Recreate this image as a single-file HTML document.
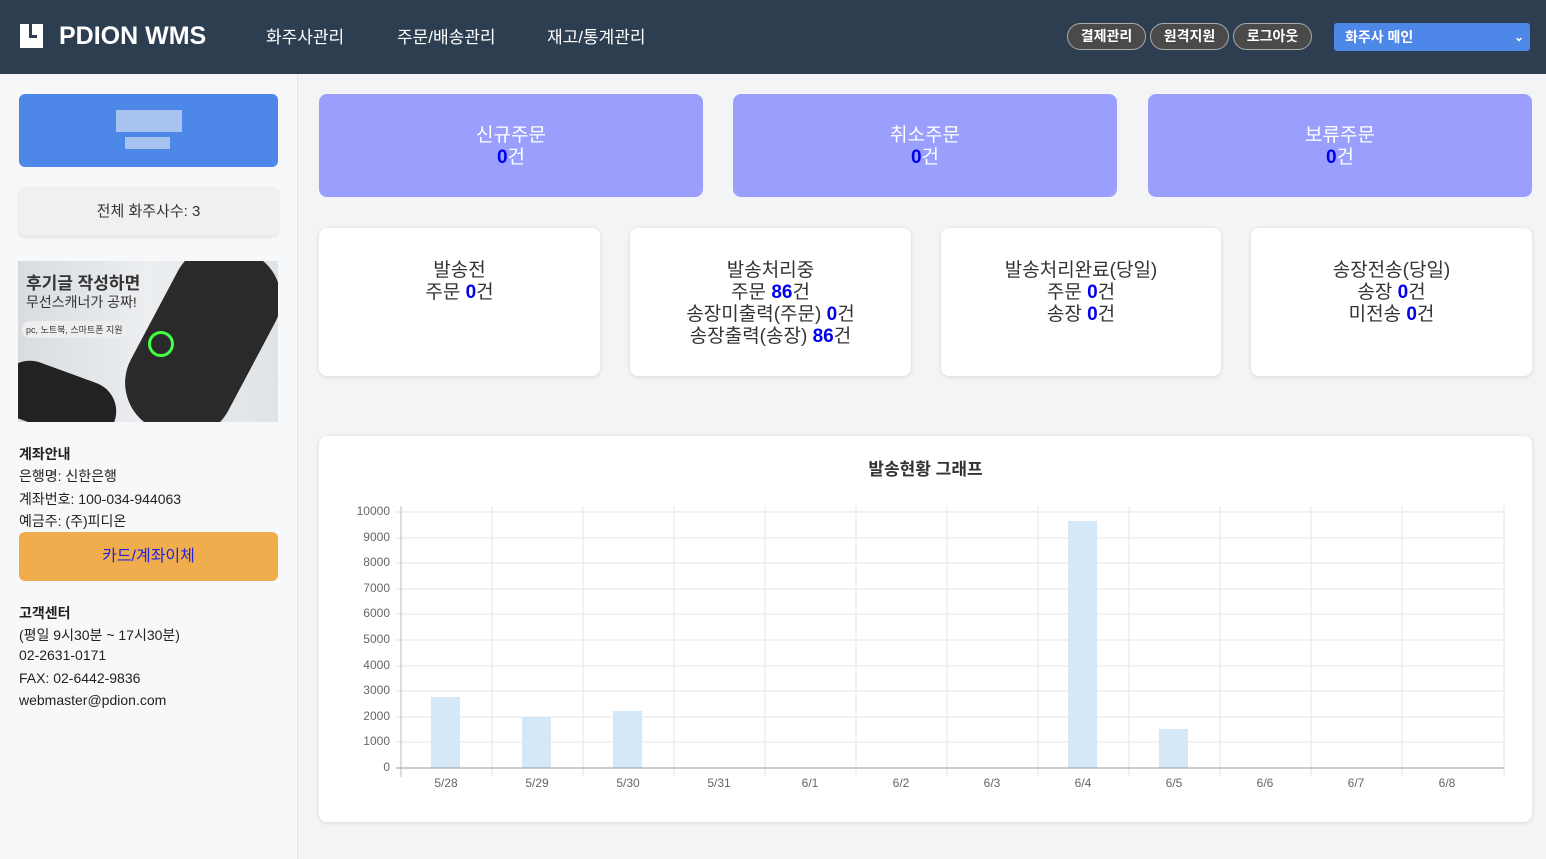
<!DOCTYPE html>
<html><head><meta charset="utf-8"><style>
*{box-sizing:border-box;margin:0;padding:0}
body{width:1546px;height:859px;overflow:hidden;background:#f3f4f6;font-family:"Liberation Sans","Noto Sans CJK KR",sans-serif;color:#333;position:relative}
.a{position:absolute}
.hdr{left:0;top:0;width:1546px;height:74px;background:#2d3e50}
.nav{color:#fff;font-size:17px;top:23px}
.pill{top:23px;height:27px;border:1px solid #aaa;border-radius:14px;background:#4a4a4a;color:#fff;font-weight:bold;font-size:14px;text-align:center;line-height:25px}
.side{left:0;top:74px;width:298px;height:785px;background:#f7f8fa;border-right:1px solid #e2e2e2}
.card{background:#fff;border-radius:8px;box-shadow:0 1px 4px rgba(0,0,0,.12)}
.top{top:94px;width:384px;height:103px;background:#9a9efc;border-radius:8px;color:#fff;font-size:19px;text-align:center;padding-top:31px;line-height:22px}
.top b{color:#0000ee}
.mid{top:228px;height:148px;font-size:19px;text-align:center;padding-top:32px;line-height:22px;color:#333}
.mid b{color:#0000ee}
.st{font-size:14px;color:#222;left:19px}
</style></head><body>
<div class="a hdr"></div>
<div class="a" style="left:20px;top:24px;width:23px;height:24px;background:#fff"></div>
<div class="a" style="left:29px;top:24px;width:3px;height:14px;background:#2d3e50"></div>
<div class="a" style="left:29px;top:35px;width:8px;height:3px;background:#2d3e50"></div>
<div class="a" style="left:59px;top:22px;color:#fff;font-weight:bold;font-size:25px">PDION WMS</div>
<div class="a nav" style="left:266px">화주사관리</div>
<div class="a nav" style="left:397px">주문/배송관리</div>
<div class="a nav" style="left:547px">재고/통계관리</div>
<div class="a pill" style="left:1067px;width:79px">결제관리</div>
<div class="a pill" style="left:1150px;width:79px">원격지원</div>
<div class="a pill" style="left:1233px;width:79px">로그아웃</div>
<div class="a" style="left:1334px;top:23px;width:196px;height:28px;background:#4d88e8;border-radius:3px;color:#fff;font-weight:bold;font-size:14px;line-height:28px;padding-left:11px">화주사 메인<span style="position:absolute;right:6px;font-size:12px">⌄</span></div>

<div class="a side"></div>
<div class="a" style="left:19px;top:94px;width:259px;height:73px;background:#4d88e8;border-radius:6px"></div>
<div class="a" style="left:116px;top:110px;width:66px;height:22px;background:#a8c3f0"></div>
<div class="a" style="left:125px;top:137px;width:45px;height:12px;background:#a8c3f0"></div>
<div class="a" style="left:19px;top:187px;width:259px;height:49px;background:#f0f0f0;border-radius:6px;box-shadow:0 1px 3px rgba(0,0,0,.12);text-align:center;line-height:49px;font-size:15px">전체 화주사수: 3</div>
<div class="a" style="left:18px;top:261px;width:260px;height:161px;background:linear-gradient(90deg,#d8dce0,#eceef0 50%,#dfe3e6);overflow:hidden">
<div class="a" style="left:130px;top:-20px;width:110px;height:200px;background:#2a2a2a;border-radius:50px;transform:rotate(28deg)"></div>
<div class="a" style="left:-20px;top:110px;width:120px;height:60px;background:#222;border-radius:40px;transform:rotate(20deg)"></div>
<div class="a" style="left:130px;top:70px;width:26px;height:26px;border:3px solid #4f4;border-radius:50%"></div>
<div class="a" style="left:8px;top:8px;font-weight:bold;font-size:17px;color:#333">후기글 작성하면</div>
<div class="a" style="left:8px;top:31px;font-size:14px;color:#333">무선스캐너가 공짜!</div>
<div class="a" style="left:4px;top:60px;font-size:9px;color:#333;background:#eee;border-radius:8px;padding:2px 4px">pc, 노트북, 스마트폰 지원</div>
</div>
<div class="a st" style="top:444px;font-weight:bold">계좌안내</div>
<div class="a st" style="top:466px">은행명: 신한은행</div>
<div class="a st" style="top:489px">계좌번호: 100-034-944063</div>
<div class="a st" style="top:511px">예금주: (주)피디온</div>
<div class="a" style="left:19px;top:532px;width:259px;height:49px;background:#f0ad4e;border-radius:6px;text-align:center;line-height:49px;color:#2222dd;font-size:16px">카드/계좌이체</div>
<div class="a st" style="top:603px;font-weight:bold">고객센터</div>
<div class="a st" style="top:625px">(평일 9시30분 ~ 17시30분)</div>
<div class="a st" style="top:647px">02-2631-0171</div>
<div class="a st" style="top:670px">FAX: 02-6442-9836</div>
<div class="a st" style="top:692px">webmaster@pdion.com</div>

<div class="a top" style="left:319px">신규주문<br><b>0</b>건</div>
<div class="a top" style="left:733px">취소주문<br><b>0</b>건</div>
<div class="a top" style="left:1148px">보류주문<br><b>0</b>건</div>

<div class="a card mid" style="left:319px;width:281px">발송전<br>주문 <b>0</b>건</div>
<div class="a card mid" style="left:630px;width:281px">발송처리중<br>주문 <b>86</b>건<br>송장미출력(주문) <b>0</b>건<br>송장출력(송장) <b>86</b>건</div>
<div class="a card mid" style="left:941px;width:280px">발송처리완료(당일)<br>주문 <b>0</b>건<br>송장 <b>0</b>건</div>
<div class="a card mid" style="left:1251px;width:281px">송장전송(당일)<br>송장 <b>0</b>건<br>미전송 <b>0</b>건</div>

<div class="a card" style="left:319px;top:436px;width:1213px;height:386px"></div>
<div class="a" style="left:319px;top:455px;width:1213px;text-align:center;font-weight:bold;font-size:17px;color:#333">발송현황 그래프</div>
<svg class="a" style="left:0;top:0" width="1546" height="859" font-family="Liberation Sans,sans-serif" font-size="12" fill="#666">
<g stroke="#e5e5e5">
<line x1="396" y1="512" x2="1504" y2="512"/><line x1="396" y1="538" x2="1504" y2="538"/><line x1="396" y1="563" x2="1504" y2="563"/><line x1="396" y1="589" x2="1504" y2="589"/><line x1="396" y1="614" x2="1504" y2="614"/><line x1="396" y1="640" x2="1504" y2="640"/><line x1="396" y1="666" x2="1504" y2="666"/><line x1="396" y1="691" x2="1504" y2="691"/><line x1="396" y1="717" x2="1504" y2="717"/><line x1="396" y1="742" x2="1504" y2="742"/>
<line x1="492" y1="506" x2="492" y2="777"/><line x1="583" y1="506" x2="583" y2="777"/><line x1="674" y1="506" x2="674" y2="777"/><line x1="765" y1="506" x2="765" y2="777"/><line x1="856" y1="506" x2="856" y2="777"/><line x1="947" y1="506" x2="947" y2="777"/><line x1="1038" y1="506" x2="1038" y2="777"/><line x1="1129" y1="506" x2="1129" y2="777"/><line x1="1220" y1="506" x2="1220" y2="777"/><line x1="1311" y1="506" x2="1311" y2="777"/><line x1="1402" y1="506" x2="1402" y2="777"/><line x1="1504" y1="506" x2="1504" y2="777"/>
</g>
<g fill="#d4e8f7">
<rect x="431" y="697" width="29" height="71"/><rect x="522" y="717" width="29" height="51"/><rect x="613" y="711" width="29" height="57"/><rect x="1068" y="521" width="29" height="247"/><rect x="1159" y="729" width="29" height="39"/>
</g>
<line x1="401" y1="506" x2="401" y2="777" stroke="#bbb"/>
<line x1="396" y1="768" x2="1504" y2="768" stroke="#999"/>
<g text-anchor="end">
<text x="390" y="515">10000</text><text x="390" y="541">9000</text><text x="390" y="566">8000</text><text x="390" y="592">7000</text><text x="390" y="617">6000</text><text x="390" y="643">5000</text><text x="390" y="669">4000</text><text x="390" y="694">3000</text><text x="390" y="720">2000</text><text x="390" y="745">1000</text><text x="390" y="771">0</text>
</g>
<g text-anchor="middle">
<text x="446" y="787">5/28</text><text x="537" y="787">5/29</text><text x="628" y="787">5/30</text><text x="719" y="787">5/31</text><text x="810" y="787">6/1</text><text x="901" y="787">6/2</text><text x="992" y="787">6/3</text><text x="1083" y="787">6/4</text><text x="1174" y="787">6/5</text><text x="1265" y="787">6/6</text><text x="1356" y="787">6/7</text><text x="1447" y="787">6/8</text>
</g>
</svg>
</body></html>
